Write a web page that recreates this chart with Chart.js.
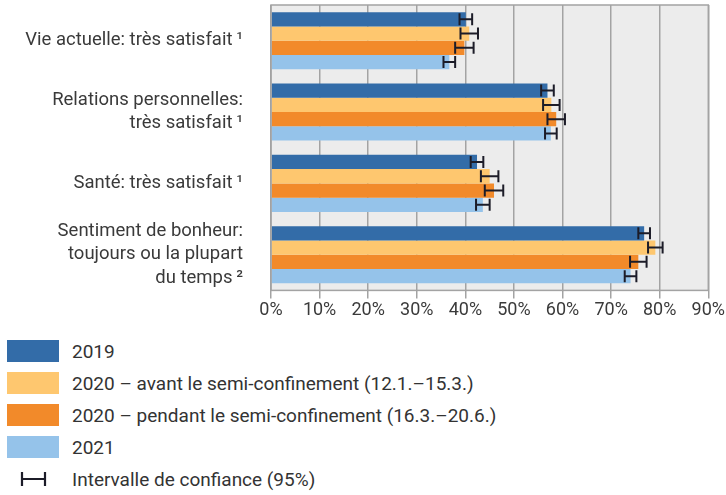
<!DOCTYPE html>
<html>
<head>
<meta charset="utf-8">
<script src="https://cdn.jsdelivr.net/npm/chart.js@4"></script>
<style>
  body { margin: 0; background: #fff; font-family: Roboto, sans-serif; }
  #wrap { position: relative; width: 726px; height: 495px; }
  #chart { position: absolute; left: 0; top: 0; }
  #legend { position: absolute; left: 7px; top: 340px; color: #333; font-size: 19px; }
  .row { display: flex; align-items: center; height: 22px; margin-bottom: 10px; }
  .sw { width: 52px; height: 22px; margin-right: 13px; }
  .ci { width: 52px; height: 22px; margin-right: 13px; position: relative; }
</style>
</head>
<body>
<div id="wrap">
  <canvas id="chart" width="726" height="322"></canvas>
  <div id="legend"></div>
</div>
<script>
const categories = [
    'Vie actuelle: très satisfait\u2009¹',
    ['Relations personnelles:', 'très satisfait\u2009¹'],
    'Santé: très satisfait\u2009¹',
    ['Sentiment de bonheur:', 'toujours ou la plupart', 'du temps\u2009²']
];
const seriesNames = [
    '2019',
    '2020 – avant le semi-confinement (12.1.–15.3.)',
    '2020 – pendant le semi-confinement (16.3.–20.6.)',
    '2021'
];
const seriesColors = ['#336ca8', '#fec76f', '#f28a2a', '#95c3ea'];

// values in %
const v2019 = [40.1, 56.9, 42.4, 76.8];
const v2020avant = [40.8, 57.7, 45.0, 79.1];
const v2020pendant = [39.8, 58.7, 45.9, 75.6];
const v2021 = [36.7, 57.6, 43.6, 74.0];

// half width of the 95% confidence interval
const ci2019 = [1.3, 1.3, 1.3, 1.2];
const ci2020avant = [1.8, 1.7, 1.8, 1.5];
const ci2020pendant = [1.9, 1.8, 1.9, 1.7];
const ci2021 = [1.2, 1.2, 1.4, 1.2];

const xTicks = [0, 10, 20, 30, 40, 50, 60, 70, 80, 90];

const values = [v2019, v2020avant, v2020pendant, v2021];
const cis = [ci2019, ci2020avant, ci2020pendant, ci2021];

const plotBg = {
    id: 'plotBg',
    beforeDraw(chart) {
        const {ctx, chartArea: a} = chart;
        ctx.save();
        ctx.fillStyle = '#ececec';
        ctx.fillRect(a.left, a.top, a.right - a.left, a.bottom - a.top);
        ctx.restore();
    },
    afterDraw(chart) {
        const {ctx, chartArea: a} = chart;
        ctx.save();
        ctx.strokeStyle = '#a3a3a3';
        ctx.lineWidth = 1.5;
        ctx.strokeRect(a.left, a.top, a.right - a.left, a.bottom - a.top);
        ctx.restore();
    }
};

const errorBars = {
    id: 'errorBars',
    afterDatasetsDraw(chart) {
        const ctx = chart.ctx;
        const x = chart.scales.x;
        ctx.save();
        ctx.strokeStyle = '#1c1c28';
        ctx.lineWidth = 2;
        chart.data.datasets.forEach((ds, i) => {
            const meta = chart.getDatasetMeta(i);
            meta.data.forEach((bar, j) => {
                const lo = x.getPixelForValue(ds.data[j] - cis[i][j]);
                const hi = x.getPixelForValue(ds.data[j] + cis[i][j]);
                const y = bar.y;
                const h = 6;
                ctx.beginPath();
                ctx.moveTo(lo, y); ctx.lineTo(hi, y);
                ctx.moveTo(lo, y - h); ctx.lineTo(lo, y + h);
                ctx.moveTo(hi, y - h); ctx.lineTo(hi, y + h);
                ctx.stroke();
            });
        });
        ctx.restore();
    }
};

new Chart(document.getElementById('chart'), {
    type: 'bar',
    data: {
        labels: categories,
        datasets: seriesNames.map((name, i) => ({
            label: name,
            data: values[i],
            backgroundColor: seriesColors[i],
            borderWidth: 0,
            categoryPercentage: 0.8,
            barPercentage: 1.0
        }))
    },
    options: {
        indexAxis: 'y',
        responsive: false,
        animation: false,
        layout: { padding: { top: 5, right: 16, left: 0, bottom: 0 } },
        scales: {
            x: {
                min: 0,
                max: 90,
                afterBuildTicks: (scale) => { scale.ticks = xTicks.map(v => ({ value: v })); },
                ticks: {
                    callback: (v) => v + '%',
                    color: '#3a3a3a',
                    font: { family: 'Roboto', size: 18 },
                    padding: 1,
                    maxRotation: 0
                },
                grid: { color: '#a3a3a3', lineWidth: 1.5, tickLength: 8 },
                border: { display: false }
            },
            y: {
                afterFit: (scale) => {
                    scale.width = 271;
                    scale.paddingTop = 0;
                    scale.paddingBottom = 0;
                },
                ticks: {
                    autoSkip: false,
                    color: '#3a3a3a',
                    font: { family: 'Roboto', size: 18.5, lineHeight: 1.27 },
                    padding: 20
                },
                grid: { display: false },
                border: { display: false }
            }
        },
        plugins: {
            legend: { display: false },
            tooltip: { enabled: false }
        }
    },
    plugins: [plotBg, errorBars]
});

// legend below the chart
const legend = document.getElementById('legend');
seriesNames.forEach((name, i) => {
    const row = document.createElement('div');
    row.className = 'row';
    row.innerHTML = '<div class="sw" style="background:' + seriesColors[i] + '"></div><span>' + name + '</span>';
    legend.appendChild(row);
});
const ciRow = document.createElement('div');
ciRow.className = 'row';
ciRow.style.marginTop = '4px';
ciRow.innerHTML = '<svg class="ci" viewBox="0 0 52 22"><path d="M15 4V18M15 11H38M38 4V18" stroke="#1c1c28" stroke-width="2.2" fill="none"/></svg><span>Intervalle de confiance (95%)</span>';
legend.appendChild(ciRow);
</script>
</body>
</html>
